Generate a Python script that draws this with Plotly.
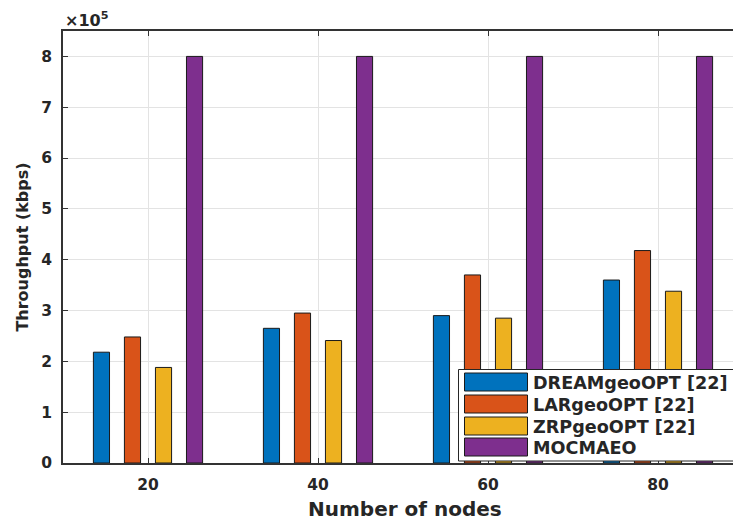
import plotly.graph_objects as go

# ---- data ----
nodes = [20, 40, 60, 80]
dream_geo_opt = [218000, 265000, 290000, 360000]
lar_geo_opt = [248000, 295000, 370000, 418000]
zrp_geo_opt = [188000, 241000, 285000, 338000]
mocmaeo = [800000, 800000, 800000, 800000]
series_names = ["DREAMgeoOPT [22]", "LARgeoOPT [22]", "ZRPgeoOPT [22]", "MOCMAEO"]
series_colors = ["#0072BD", "#D95319", "#EDB120", "#7E2F8E"]
y_ticks = [0, 1, 2, 3, 4, 5, 6, 7, 8]
x_ticks = [20, 40, 60, 80]
scale = 1e5

FONT = "DejaVu Sans"
TXT = "#262626"

# the reference axes run past the right edge of the 733 px window
W, H = 760, 520
L, R, T, B = 63, 0, 31, 57
PW, PH = W - L - R, H - T - B


def px(xp):
    return (xp - L) / PW


def py(yp):
    return (H - B - yp) / PH


fig = go.Figure()
for name, vals, col in zip(series_names,
                           [dream_geo_opt, lar_geo_opt, zrp_geo_opt, mocmaeo],
                           series_colors):
    fig.add_trace(go.Bar(
        x=nodes, y=[v / scale for v in vals], name=name,
        marker=dict(color=col, line=dict(color="#1a1a1a", width=1)),
        showlegend=False,
    ))

# custom MATLAB-like legend
shapes = [dict(type="rect", xref="paper", yref="paper",
               x0=px(458.5), x1=px(770), y0=py(461), y1=py(369.5),
               fillcolor="white", line=dict(color="#262626", width=1), layer="above")]
annotations = []
row_tops = [373, 395, 417, 438]
for i, (name, col) in enumerate(zip(series_names, series_colors)):
    top = row_tops[i]
    shapes.append(dict(type="rect", xref="paper", yref="paper",
                       x0=px(464.5), x1=px(527.5), y0=py(top + 18), y1=py(top),
                       fillcolor=col, line=dict(color="#1a1a1a", width=1), layer="above"))
    annotations.append(dict(xref="paper", yref="paper", x=px(531), y=py(top + 9.5),
                            text=name, showarrow=False, xanchor="left", yanchor="middle",
                            font=dict(family=FONT, size=17.6, color=TXT, weight="bold")))

# exponent label
annotations.append(dict(xref="paper", yref="paper", x=px(63), y=py(19),
                        text="<b>×10<sup>5</sup></b>", showarrow=False, xanchor="left", yanchor="middle",
                        font=dict(family=FONT, size=16, color=TXT)))
# x title
annotations.append(dict(xref="paper", yref="paper", x=px(405), y=py(509),
                        text="<b>Number of nodes</b>", showarrow=False, xanchor="center", yanchor="middle",
                        font=dict(family=FONT, size=20, color=TXT)))

fig.update_layout(
    width=W, height=H,
    margin=dict(l=L, r=R, t=T, b=B, pad=0),
    paper_bgcolor="white", plot_bgcolor="white",
    barmode="group", bargap=0.27, bargroupgap=0.48,
    shapes=shapes, annotations=annotations,
    font=dict(family=FONT, color=TXT),
)
fig.update_xaxes(
    range=[10, 10 + PW / 8.5], tickvals=x_ticks, ticktext=[str(v) for v in x_ticks],
    showgrid=True, gridcolor="#e3e3e3", gridwidth=1,
    showline=True, linecolor="#333333", linewidth=1.5, mirror="ticks",
    ticks="inside", ticklen=5, tickcolor="#333333", ticklabelstandoff=7,
    tickfont=dict(family=FONT, size=15.5, color=TXT, weight="bold"),
    zeroline=False,
)
fig.update_yaxes(
    range=[0, 8.5], tickvals=y_ticks, ticktext=[str(v) for v in y_ticks],
    showgrid=True, gridcolor="#e3e3e3", gridwidth=1,
    showline=True, linecolor="#333333", linewidth=1.5,
    ticks="inside", ticklen=5, tickcolor="#333333", ticklabelstandoff=6,
    tickfont=dict(family=FONT, size=15.5, color=TXT, weight="bold"),
    title=dict(text="Throughput (kbps)", standoff=9,
               font=dict(family=FONT, size=16, color=TXT, weight="bold")),
    zeroline=False,
)

fig.write_html(
    "out.html",
    config={"displayModeBar": False},
    post_script=("document.documentElement.style.overflow='hidden';"
                 "document.body.style.margin='0';document.body.style.overflow='hidden';"),
)
